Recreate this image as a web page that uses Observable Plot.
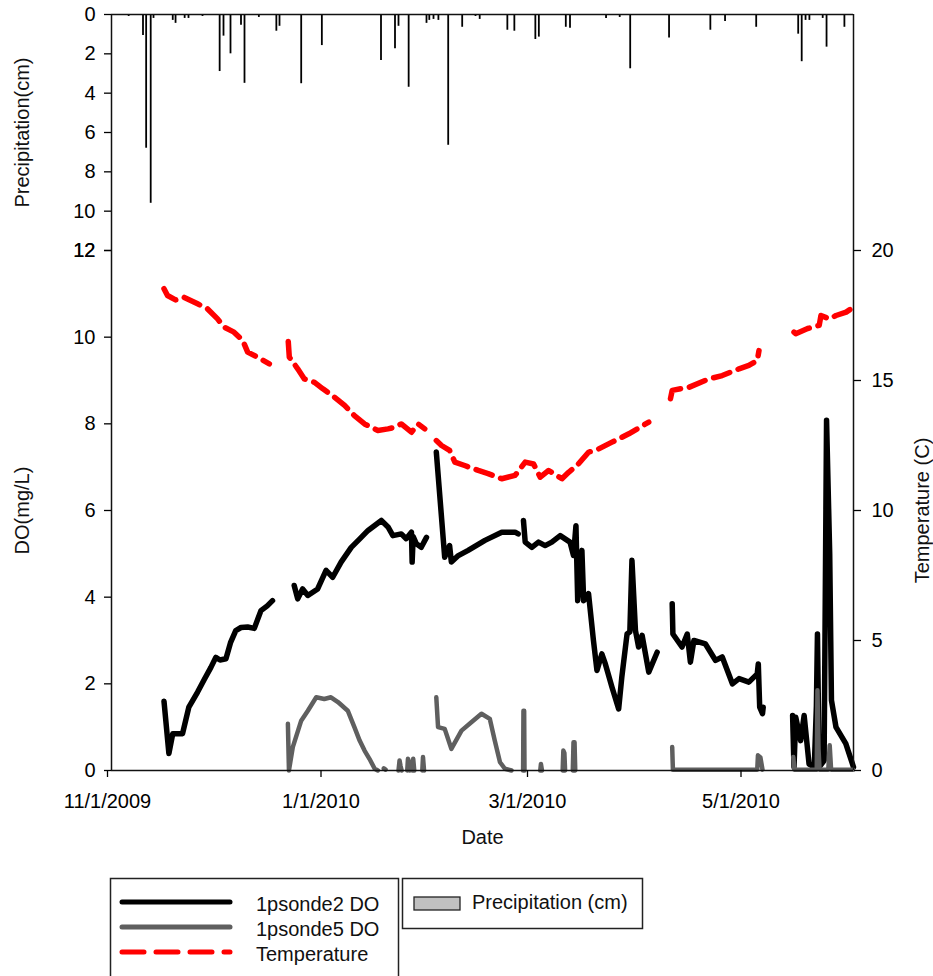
<!DOCTYPE html>
<html>
<head>
<meta charset="utf-8">
<script src="https://cdn.jsdelivr.net/npm/d3@7"></script>
<script src="https://cdn.jsdelivr.net/npm/@observablehq/plot@0.6"></script>
<style>
  html, body { margin: 0; padding: 0; background: #fff; }
  #wrap { position: relative; width: 933px; height: 976px; overflow: hidden; font-family: "Liberation Sans", Arial, sans-serif; }
  #wrap svg { overflow: visible; }
  .abs { position: absolute; left: 0; }
</style>
</head>
<body>
<div id="wrap">
  <div id="top" class="abs" style="top:0px"></div>
  <div id="bottom" class="abs" style="top:240px"></div>
  <div id="legend" class="abs" style="top:0px"></div>
</div>
<script>
// ---- Data (days since 11/1/2009) ----
const startDate = "2009-11-01";
const endDate = "2010-06-01";
const xTickLabels = ["2009-11-01", "2010-01-01", "2010-03-01", "2010-05-01"];
const doTicks = [0, 2, 4, 6, 8, 10, 12];
const precipTicks = [0, 2, 4, 6, 8, 10, 12];
const tempTicks = [0, 5, 10, 15, 20];

const precipDay = [4.9, 9.0, 9.9, 11.2, 12.0, 17.5, 18.3, 20.9, 22.0, 26.0, 30.9, 32.0, 34.0, 37.0, 38.0, 42.1, 47.1, 48.0, 54.2, 60.1, 77.0, 81.0, 82.0, 84.9, 90.0, 90.8, 92.0, 93.4, 96.2, 100.2, 104.0, 105.2, 113.1, 115.1, 121.1, 122.1, 129.8, 131.0, 141.3, 145.2, 148.2, 159.3, 163.2, 171.1, 175.3, 184.2, 196.2, 197.2, 198.3, 199.4, 203.2, 204.3, 209.4];
const precipCm = [0.1, 1.07, 6.8, 9.6, 0.2, 0.3, 0.45, 0.2, 0.2, 0.1, 2.9, 1.1, 2.0, 0.55, 3.5, 0.15, 0.85, 0.6, 3.52, 1.58, 2.34, 1.74, 0.6, 3.7, 0.45, 0.3, 0.25, 0.3, 6.65, 0.65, 0.1, 0.25, 0.8, 0.85, 1.27, 1.15, 0.65, 0.7, 0.2, 0.15, 2.76, 1.2, 0.05, 0.8, 0.35, 0.65, 1.0, 2.4, 0.3, 0.3, 0.2, 1.66, 0.65];

// 1psonde2 DO (mg/L); null = gap
const sonde2 = [
  [15.0,1.6],[16.4,0.39],[17.5,0.85],[20.3,0.85],[22.1,1.46],[24.6,1.81],[26.5,2.1],[28.4,2.38],[29.8,2.61],[31.0,2.55],[32.7,2.58],[34.0,2.95],[35.5,3.23],[37.0,3.3],[38.9,3.31],[40.8,3.28],[42.7,3.69],[44.5,3.8],[46.0,3.92],
  [49.0,null],
  [52.2,4.27],[53.2,3.96],[54.6,4.19],[56.1,4.04],[58.9,4.19],[61.3,4.62],[63.2,4.46],[65.6,4.81],[68.5,5.15],[71.0,5.35],[73.3,5.54],[77.1,5.77],[79.0,5.62],[80.4,5.42],[82.8,5.46],[84.2,5.35],[85.7,5.5],[85.9,4.81],[86.2,5.4],[87.1,5.23],[88.5,5.15],[90.0,5.38],
  [91.5,null],
  [92.8,7.35],[95.2,4.92],[96.6,5.19],[97.1,4.81],[99.1,4.96],[101.9,5.08],[106.7,5.31],[111.5,5.5],[115.3,5.5],[116.2,5.46],
  [117.0,null],
  [117.7,5.77],[118.2,5.27],[120.1,5.15],[122.0,5.27],[123.9,5.19],[125.8,5.27],[128.2,5.42],[131.0,5.27],[132.0,4.96],[132.7,5.65],[133.2,3.92],[134.4,5.08],[134.9,3.92],[136.3,4.08],[137.7,3.0],[138.7,2.31],[140.1,2.69],[141.1,2.46],[143.0,1.92],[144.9,1.42],[145.8,2.15],[147.3,3.15],[148.1,3.2],[148.7,4.85],[149.7,3.23],[150.6,2.85],[151.6,3.12],[153.5,2.27],[155.9,2.73],
  [158.0,null],
  [160.2,3.85],[160.4,3.15],[163.0,2.85],[164.5,3.15],[165.4,2.5],[166.4,3.0],[169.7,2.92],[172.6,2.54],[174.5,2.62],[177.4,2.0],[179.3,2.12],[182.1,2.04],[184.5,2.23],[184.8,2.46],[185.2,1.46],[186.0,1.31],[186.2,1.46],
  [190.0,null],
  [194.6,1.27],[195.0,0.08],[195.5,1.23],[196.9,0.69],[197.9,1.27],[199.3,0.15],[200.8,0.08],[201.4,1.5],[201.7,3.15],[202.2,0.08],[203.6,0.23],[204.3,8.08],[205.2,5.0],[205.7,1.62],[207.0,1.0],[209.8,0.62],[212.0,0.08]
];

// 1psonde5 DO (mg/L); null = gap
const sonde5 = [
  [50.4,1.08],[50.7,0],[51.8,0.54],[54.2,1.15],[56.1,1.38],[58.5,1.69],[60.8,1.65],[62.7,1.69],[64.7,1.58],[67.5,1.38],[69.4,1.0],[70.9,0.69],[72.3,0.46],[73.7,0.27],[75.2,0.04],[76.1,0],
  [77.0,null],[77.8,0.05],[78.3,0.02],[79.0,null],
  [82.0,0],[82.3,0.23],[82.6,0.1],[82.9,0],[83.5,null],
  [84.5,0],[84.7,0.27],[85.0,0.2],[85.2,0],[85.6,null],
  [86.0,0],[86.2,0.27],[86.5,0],[87.5,null],
  [88.8,0],[89.0,0.31],[89.3,0],[91.0,null],
  [92.8,1.69],[93.3,1.0],[95.2,0.96],[97.1,0.5],[100.0,0.92],[102.9,1.12],[105.7,1.31],[108.1,1.19],[109.5,0.69],[111.0,0.19],[112.4,0.04],[114.3,0],
  [116.0,null],
  [117.6,0],[117.7,1.38],[117.9,1.38],[118.0,0],[119.0,null],
  [122.5,0],[122.7,0.15],[123.0,0],[124.0,null],
  [128.9,0],[129.1,0.46],[129.4,0.4],[129.6,0],[130.5,null],
  [131.8,0],[132.0,0.65],[132.3,0.65],[132.5,0],[140.0,null],
  [160.2,0.54],[160.4,0.02],[184.5,0.02],[184.7,0.35],[185.4,0.3],[186.0,0.02],
  [190.0,null],
  [194.8,0.31],[195.1,0.02],[201.5,0.02],[201.7,1.85],[202.0,0.5],[202.3,0.02],[204.8,0.02],[205.2,0.58],[205.6,0.02],[211.9,0.02]
];

// Temperature (C); null = gap
const temperature = [
  [15.0,18.53],[16.0,18.27],[18.3,18.1],[20.7,18.2],[24.6,17.95],[27.4,17.76],[30.3,17.37],[32.2,17.05],[35.0,16.86],[37.5,16.54],[38.9,16.09],[41.7,15.9],[45.1,15.64],
  [48.0,null],
  [50.5,16.5],[50.8,15.9],[53.2,15.45],[55.1,15.06],[58.0,14.93],[60.4,14.68],[63.7,14.36],[66.6,14.04],[69.4,13.65],[72.3,13.33],[76.1,13.08],[79.0,13.14],[80.9,13.2],[82.8,13.33],[85.7,13.01],[87.6,13.33],[89.5,13.14],
  [91.0,null],
  [92.8,12.69],[94.3,12.5],[96.6,12.31],[98.1,11.86],[100.9,11.73],[104.8,11.54],[107.6,11.42],[111.5,11.22],[115.3,11.35],[118.2,11.86],[120.6,11.79],[122.5,11.28],[124.9,11.54],[128.7,11.22],[130.6,11.47],[133.0,11.73],[136.3,12.24],[139.2,12.37],[143.0,12.63],[147.8,12.95],[153.5,13.4],
  [157.0,null],
  [159.7,14.3],[160.2,14.62],[165.0,14.74],[170.7,15.06],[174.5,15.19],[179.3,15.45],[182.1,15.58],[184.5,15.77],[185.0,16.15],
  [190.0,null],
  [195.0,16.86],[195.5,16.8],[198.9,17.0],[202.2,17.12],[202.7,17.5],[205.1,17.37],[207.0,17.5],[209.9,17.63],[212.0,17.82]
];

// ---- Helpers ----
const t0 = Date.UTC(2009, 10, 1);
const toDate = (d) => new Date(t0 + d * 864e5);
const parse = (s) => new Date(s + "T00:00:00Z");
const tempToDO = 12 / 20;

const precip = precipDay.map((d, i) => ({date: toDate(d), cm: precipCm[i]}));
const s2 = sonde2.map(([d, v]) => ({date: toDate(d), v}));
const s5 = sonde5.map(([d, v]) => ({date: toDate(d), v}));
const tmp = temperature.map(([d, v]) => ({date: toDate(d), v: v == null ? null : v * tempToDO}));

const xDomain = [parse(startDate), parse(endDate)];
const font = {fontFamily: "'Liberation Sans', Arial, sans-serif", fontSize: "20px", color: "#000", background: "transparent", overflow: "visible"};
const fmt = d3.utcFormat("%-m/%-d/%Y");

// ---- Top panel: precipitation ----
const topPlot = Plot.plot({
  width: 933, height: 252,
  marginTop: 14, marginBottom: 2, marginLeft: 111, marginRight: 80,
  style: font,
  x: {type: "utc", domain: xDomain, axis: null},
  y: {domain: [0, 12], reverse: true},
  marks: [
    Plot.ruleX(precip, {x: "date", y1: 0, y2: "cm", stroke: "#000", strokeWidth: 1.8}),
    Plot.ruleY([0], {stroke: "#111", strokeWidth: 1.5}),
    Plot.ruleX(xDomain, {stroke: "#111", strokeWidth: 1.5}),
    Plot.axisY({ticks: precipTicks, tickSize: 7, tickPadding: 9, label: null, strokeWidth: 1.3}),
    Plot.text(["Precipitation(cm)"], {text: d => d, frameAnchor: "left", textAnchor: "middle", lineAnchor: "middle", dx: -89, rotate: -90, fill: "#111"})
  ]
});
document.getElementById("top").appendChild(topPlot);

// ---- Bottom panel: DO and temperature ----
const bottomPlot = Plot.plot({
  width: 933, height: 615,
  marginTop: 10, marginBottom: 85, marginLeft: 111, marginRight: 80,
  style: font,
  x: {type: "utc", domain: xDomain},
  y: {domain: [0, 12]},
  marks: [
    Plot.line(s2, {x: "date", y: "v", stroke: "#000", strokeWidth: 5.5, strokeLinejoin: "round", strokeLinecap: "round"}),
    Plot.line(s5, {x: "date", y: "v", stroke: "#5f5f5f", strokeWidth: 4.5, strokeLinejoin: "round", strokeLinecap: "round"}),
    Plot.line(tmp, {x: "date", y: "v", stroke: "#ff0000", strokeWidth: 5.5, strokeDasharray: "17,9", strokeLinejoin: "round", strokeLinecap: "round"}),
    Plot.ruleY([0], {stroke: "#111", strokeWidth: 1.5}),
    Plot.ruleX(xDomain, {stroke: "#111", strokeWidth: 1.5}),
    Plot.axisY({ticks: doTicks, tickSize: 7, tickPadding: 9, label: null, strokeWidth: 1.3}),
    Plot.axisY({anchor: "right", ticks: tempTicks.map(t => t * tempToDO), tickFormat: d => Math.round(d / tempToDO), tickSize: 7, tickPadding: 11, label: null, strokeWidth: 1.3}),
    Plot.axisX({ticks: xTickLabels.map(parse), tickFormat: fmt, tickSize: 7, tickPadding: 16, dx: -4, label: null, strokeWidth: 1.3}),
    Plot.text(["DO(mg/L)"], {text: d => d, frameAnchor: "left", textAnchor: "middle", lineAnchor: "middle", dx: -89, rotate: -90, fill: "#111"}),
    Plot.text(["Temperature (C)"], {text: d => d, frameAnchor: "right", textAnchor: "middle", lineAnchor: "middle", dx: 69, rotate: -90, fill: "#111"}),
    Plot.text(["Date"], {text: d => d, frameAnchor: "bottom", lineAnchor: "middle", dy: 67, fill: "#111"})
  ]
});
document.getElementById("bottom").appendChild(bottomPlot);

// ---- Legend ----
const ns = "http://www.w3.org/2000/svg";
const lg = document.createElementNS(ns, "svg");
lg.setAttribute("width", 933); lg.setAttribute("height", 976);
lg.style.fontFamily = "'Liberation Sans', Arial, sans-serif";
lg.style.fontSize = "20px";
function el(tag, attrs, text) {
  const e = document.createElementNS(ns, tag);
  for (const k in attrs) e.setAttribute(k, attrs[k]);
  if (text) e.textContent = text;
  lg.appendChild(e);
  return e;
}
el("rect", {x: 110.5, y: 878.5, width: 288, height: 120, fill: "none", stroke: "#222", "stroke-width": 1.5});
el("rect", {x: 402.5, y: 878.5, width: 240, height: 50, fill: "none", stroke: "#222", "stroke-width": 1.5});
const legendItems = [
  {label: "1psonde2 DO", color: "#000", dash: null, y: 902},
  {label: "1psonde5 DO", color: "#5f5f5f", dash: null, y: 927},
  {label: "Temperature", color: "#ff0000", dash: "22,12", y: 952}
];
for (const it of legendItems) {
  const a = {x1: 122, x2: 230, y1: it.y, y2: it.y, stroke: it.color, "stroke-width": 5, "stroke-linecap": "round"};
  if (it.dash) a["stroke-dasharray"] = it.dash;
  el("line", a);
  el("text", {x: 256, y: it.y + 4, "dominant-baseline": "middle", fill: "#111"}, it.label);
}
el("rect", {x: 414, y: 897, width: 46, height: 13, fill: "#c0c0c0", stroke: "#222", "stroke-width": 1.3});
el("text", {x: 472, y: 904, "dominant-baseline": "middle", fill: "#111"}, "Precipitation (cm)");
document.getElementById("legend").appendChild(lg);
</script>
</body>
</html>
